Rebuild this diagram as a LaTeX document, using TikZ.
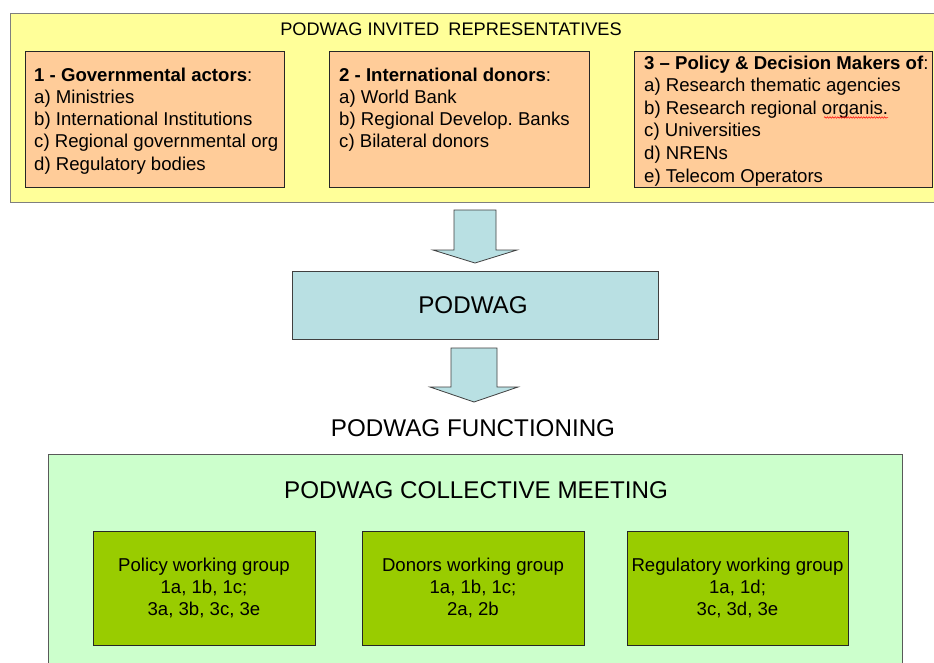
\documentclass[tikz,border=0pt]{standalone}
\usepackage{fontspec}
\setmainfont{Liberation Sans}
\usetikzlibrary{calc,decorations.pathmorphing}
\definecolor{ylwfill}{HTML}{FFFF99}
\definecolor{orgfill}{HTML}{FFCC99}
\definecolor{bluefill}{HTML}{B9E0E3}
\definecolor{ltgreen}{HTML}{CCFFCC}
\definecolor{dkgreen}{HTML}{99CC00}
\definecolor{frame}{HTML}{7F7F7F}
\frenchspacing
\begin{document}
\begin{tikzpicture}[x=1pt,y=-1pt,
  panel/.style={draw=frame, line width=1pt, anchor=north west, inner sep=0pt, outer sep=0pt},
  subbox/.style={draw=black!85, line width=0.8pt, fill=orgfill, anchor=north west, inner sep=0pt, outer sep=0pt},
  wgbox/.style={draw=black!85, line width=0.8pt, fill=dkgreen, minimum width=221pt, minimum height=114pt,
     anchor=north west, inner sep=0pt, outer sep=0pt, align=center, font=\fontsize{18.6}{22.2}\selectfont},
  body/.style={font=\fontsize{18.6}{22}\selectfont, inner sep=0pt, anchor=base west},
  bigtext/.style={font=\fontsize{24.2}{28}\selectfont, inner sep=0pt, anchor=base},
  blockarrow/.style={draw=black!75, line width=0.8pt, fill=bluefill, line join=miter}
]
\clip (0,0) rectangle (934,662);
\fill[white] (0,0) rectangle (934,662);

% top panel
\node[panel, fill=ylwfill, minimum width=925pt, minimum height=189pt] (top) at (10,13) {};
\node[font=\fontsize{18.2}{22}\selectfont, inner sep=0pt, anchor=base] (toptitle) at (451,35)
  {PODWAG INVITED\hspace{0.5em}REPRESENTATIVES};

\node[subbox, minimum width=259pt, minimum height=136pt] (g1) at (25,51) {};
\node[subbox, minimum width=260pt, minimum height=136pt] (g2) at (329,51) {};
\node[subbox, minimum width=298pt, minimum height=136pt] (g3) at (634,51) {};

% group 1
\node[body] (g1t) at (34,81) {\textbf{1 - Governmental actors}:};
\foreach \t [count=\i] in {a) Ministries, b) International Institutions, c) Regional governmental org, d) Regulatory bodies}
  \node[body] (g1l\i) at (34,{81+22.3*\i}) {\t};

% group 2
\node[body] (g2t) at (339,81) {\textbf{2 - International donors}:};
\foreach \t [count=\i] in {a) World Bank, b) Regional Develop. Banks, c) Bilateral donors}
  \node[body] (g2l\i) at (339,{81+22.3*\i}) {\t};

% group 3
\node[body] (g3t) at (644,69) {\textbf{3 – Policy \& Decision Makers of}:};
\foreach \t [count=\i] in {a) Research thematic agencies, b) Research regional organis., c) Universities, d) NRENs, e) Telecom Operators}
  \node[body] (g3l\i) at (644,{69+22.6*\i}) {\t};
\draw[red, line width=0.5pt, decorate, decoration={snake, amplitude=0.8pt, segment length=2.6pt}]
  (824,117.5) -- (888,117.5);

% PODWAG box
\node[panel, draw=black!75, fill=bluefill, minimum width=366pt, minimum height=68pt] (podwag) at (292,271) {};
\node[bigtext] (podwagt) at (473,313) {PODWAG};

% arrow 1
\coordinate (a1s) at (475,210);
\coordinate (a1t) at (475,263);
\draw[blockarrow] ($(a1s)+(-21,0)$) -- ($(a1s)+(21,0)$) -- ($(a1s)+(21,40)$) -- ($(a1s)+(42,40)$)
  -- (a1t) -- ($(a1s)+(-42,40)$) -- ($(a1s)+(-21,40)$) -- cycle;

% arrow 2
\coordinate (a2s) at (474,348);
\coordinate (a2t) at (474,402);
\draw[blockarrow] ($(a2s)+(-23,0)$) -- ($(a2s)+(23,0)$) -- ($(a2s)+(23,39)$) -- ($(a2s)+(44,39)$)
  -- (a2t) -- ($(a2s)+(-44,39)$) -- ($(a2s)+(-23,39)$) -- cycle;

\node[bigtext] (func) at (473,436.5) {PODWAG FUNCTIONING};

% bottom panel
\node[panel, draw=black!65, fill=ltgreen, minimum width=854pt, minimum height=230pt] (meet) at (48,454) {};
\node[bigtext] (meett) at (476,498.5) {PODWAG COLLECTIVE MEETING};

\node[wgbox, minimum width=222pt] (wg1) at (93,531) {Policy working group\\1a, 1b, 1c;\\3a, 3b, 3c, 3e};
\node[wgbox, minimum width=222pt] (wg2) at (362,531) {Donors working group\\1a, 1b, 1c;\\2a, 2b};
\node[wgbox] (wg3) at (627,531) {Regulatory working group\\1a, 1d;\\3c, 3d, 3e};
\end{tikzpicture}
\end{document}
